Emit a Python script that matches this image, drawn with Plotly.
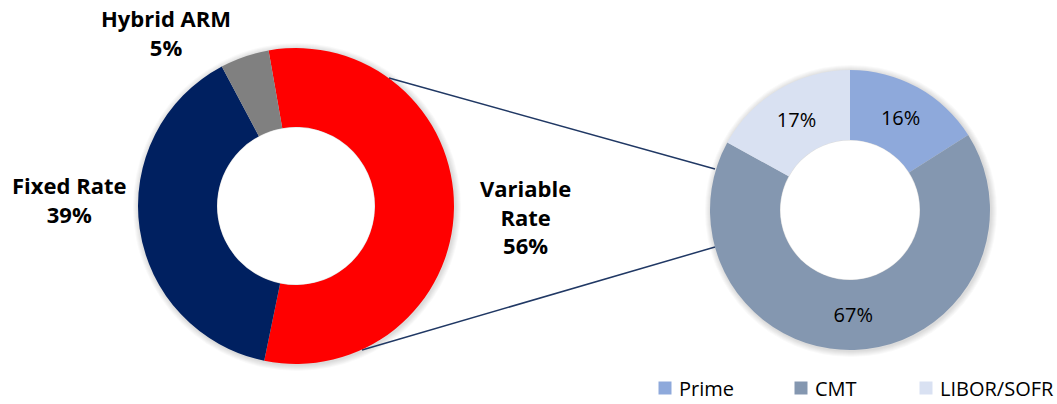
import plotly.graph_objects as go

# Rate mix of the portfolio
rate_labels = ["Variable Rate", "Fixed Rate", "Hybrid ARM"]
rate_display = ["Variable<br>Rate", "Fixed Rate", "Hybrid ARM"]
rate_values = [56, 39, 5]
rate_colors = ["#FF0000", "#002060", "#808080"]

# Breakdown of the variable-rate slice by index
index_labels = ["Prime", "CMT", "LIBOR/SOFR"]
index_values = [16, 67, 17]
index_colors = ["#8EA9DB", "#8497B0", "#D9E1F2"]

W, H = 1057, 404
HOLE = 0.5


def px_x(x):
    return x / W


def px_y(y):
    return 1 - y / H


def circle(cx, cy, r, **kw):
    return dict(type="circle", xref="paper", yref="paper",
                x0=px_x(cx - r), x1=px_x(cx + r),
                y0=px_y(cy + r), y1=px_y(cy - r), **kw)


fig = go.Figure()

# Left donut
lc, lr = (296, 206), 158
fig.add_trace(go.Pie(
    labels=rate_labels, values=rate_values, hole=HOLE, sort=False,
    direction="clockwise", rotation=-10,
    marker=dict(colors=rate_colors, line=dict(width=0)),
    textinfo="none", hoverinfo="label+percent", showlegend=False,
    domain=dict(x=[px_x(lc[0] - lr), px_x(lc[0] + lr)],
                y=[px_y(lc[1] + lr), px_y(lc[1] - lr)]),
))

# Right donut
rc, rr = (850, 210), 140
fig.add_trace(go.Pie(
    labels=index_labels, values=index_values, hole=HOLE, sort=False,
    direction="clockwise", rotation=0,
    marker=dict(colors=index_colors, line=dict(width=0)),
    texttemplate="%{value}%", textposition="inside",
    insidetextorientation="horizontal",
    textfont=dict(family="Open Sans", size=20, color="#000000"),
    hoverinfo="label+percent", showlegend=False,
    domain=dict(x=[px_x(rc[0] - rr), px_x(rc[0] + rr)],
                y=[px_y(rc[1] + rr), px_y(rc[1] - rr)]),
))

# Soft shadow around each donut, with the hole kept white
for (cx, cy), r in [(lc, lr), (rc, rr)]:
    for k in range(1, 7):
        fig.add_shape(**circle(cx + 1, cy + 1, r + k,
                               fillcolor="rgba(0,0,0,0.022)",
                               line=dict(width=0), layer="below"))
    fig.add_shape(**circle(cx, cy, r * HOLE - 0.5, fillcolor="white",
                           line=dict(width=0), layer="above"))

# Outside labels for the left donut
label_pos = {"Variable Rate": (525, 216), "Fixed Rate": (69, 199), "Hybrid ARM": (166, 33)}
for name, disp, val in zip(rate_labels, rate_display, rate_values):
    x, y = label_pos[name]
    fig.add_annotation(
        x=px_x(x), y=px_y(y), xref="paper", yref="paper",
        text=f"<b>{disp}<br>{val}%</b>", showarrow=False,
        xanchor="center", yanchor="middle", align="center",
        font=dict(family="Open Sans", size=22, color="#000000"),
    )

# Connector lines from the variable-rate slice to the breakdown donut
for (x0, y0), (x1, y1) in [((389, 78), (715, 169)), ((362, 350), (715, 247))]:
    fig.add_shape(type="line", xref="paper", yref="paper",
                  x0=px_x(x0), y0=px_y(y0), x1=px_x(x1), y1=px_y(y1),
                  line=dict(color="#203864", width=1.5), layer="below")

# Legend row for the breakdown donut
legend_x = [665, 801, 926]
legend_y = 388
for lx, name, col in zip(legend_x, index_labels, index_colors):
    fig.add_shape(type="rect", xref="paper", yref="paper",
                  x0=px_x(lx - 6.5), x1=px_x(lx + 6.5),
                  y0=px_y(legend_y + 6.5), y1=px_y(legend_y - 6.5),
                  fillcolor=col, line=dict(width=0))
    fig.add_annotation(x=px_x(lx + 12), y=px_y(legend_y), xref="paper", yref="paper",
                       text=name, showarrow=False, xanchor="left", yanchor="middle",
                       font=dict(family="Open Sans", size=20, color="#000000"))

fig.update_layout(
    width=W, height=H,
    margin=dict(l=0, r=0, t=0, b=0),
    paper_bgcolor="white", plot_bgcolor="white",
    showlegend=False,
)

fig.write_html("out.html")
